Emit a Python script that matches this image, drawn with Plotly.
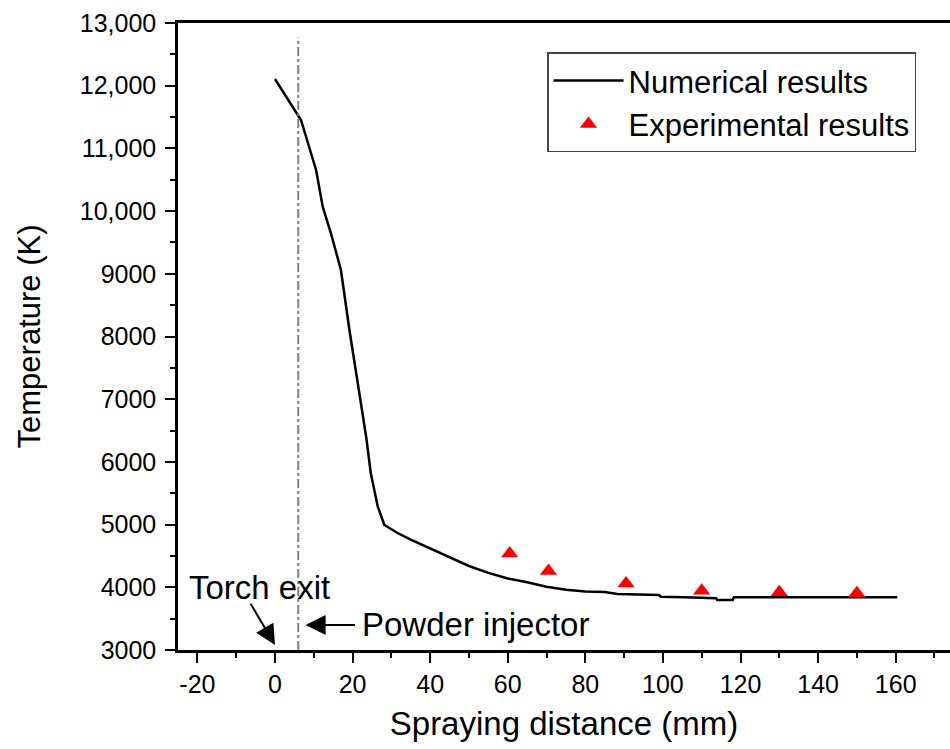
import plotly.graph_objects as go

# Numerical results (line)
num_x = [0, 6.7, 10.6, 12.3, 14.4, 16.6, 17.0, 19.2, 21.7, 23.5, 24.7, 26.5, 28.2,
         31.6, 35, 40, 45, 50, 55, 60, 65, 70, 75, 80, 85, 88.3, 99, 99.5, 105.5,
         113.7, 114, 118, 118.3, 160.4]
num_y = [12107, 11453, 10656, 10070, 9650, 9167, 9060, 8100, 7094, 6402, 5820, 5286, 4994,
         4866, 4760, 4620, 4470, 4340, 4230, 4140, 4080, 4010, 3960, 3935, 3925, 3893, 3877, 3850, 3840,
         3824, 3797, 3797, 3840, 3840]

# Experimental results (triangles)
exp_x = [60.5, 70.5, 90.5, 110, 130, 150]
exp_y = [4540, 4260, 4060, 3945, 3920, 3905]

y_tickvals = [3000, 4000, 5000, 6000, 7000, 8000, 9000, 10000, 11000, 12000, 13000]
y_ticktext = ["3000", "4000", "5000", "6000", "7000", "8000", "9000",
              "10,000", "11,000", "12,000", "13,000"]
x_tickvals = [-20, 0, 20, 40, 60, 80, 100, 120, 140, 160]
x_ticktext = ["-20", "0", "20", "40", "60", "80", "100", "120", "140", "160"]

injector_x = 6
FONT = "Arial, Liberation Sans, sans-serif"

fig = go.Figure()
fig.add_trace(go.Scatter(x=num_x, y=num_y, mode="lines", name="Numerical results",
                         line=dict(color="black", width=2.5)))
fig.add_trace(go.Scatter(x=exp_x, y=exp_y, mode="markers", name="Experimental results",
                         marker=dict(symbol="triangle-up", color="red", size=15,
                                     line=dict(width=0))))

fig.add_shape(type="line", x0=injector_x, x1=injector_x, y0=3000, y1=12770,
              xref="x", yref="y", line=dict(color="#808080", width=2, dash="dashdot"))

# Annotations
fig.add_annotation(x=0, y=3080, ax=-6.5, ay=3760, xref="x", yref="y", axref="x", ayref="y",
                   text="", showarrow=True, arrowhead=2, arrowsize=2, arrowwidth=2,
                   arrowcolor="black")
fig.add_annotation(x=-4, y=3990, xref="x", yref="y", text="Torch exit", showarrow=False,
                   font=dict(size=33, color="black", family=FONT))
fig.add_annotation(x=7.9, y=3400, ax=21, ay=3400, xref="x", yref="y", axref="x", ayref="y",
                   text="", showarrow=True, arrowhead=2, arrowsize=2, arrowwidth=2,
                   arrowcolor="black")
fig.add_annotation(x=22, y=3400, xref="x", yref="y", text="Powder injector", showarrow=False,
                   xanchor="left", font=dict(size=33, color="black", family=FONT))

fig.update_layout(
    width=950, height=749,
    margin=dict(l=178, r=0, t=23, b=99),
    paper_bgcolor="white", plot_bgcolor="white",
    font=dict(family=FONT, color="black"),
    showlegend=True,
    legend=dict(x=0.478, y=0.953, xanchor="left", yanchor="top",
                bgcolor="white", bordercolor="#444", borderwidth=1.5,
                font=dict(size=31, family=FONT, color="black"),
                itemwidth=70, tracegroupgap=0),
    xaxis=dict(
        range=[-25, 174], tickvals=x_tickvals, ticktext=x_ticktext, ticks="outside",
        ticklen=10, tickwidth=2,
        tickcolor="black", showline=True, linecolor="black", linewidth=2.5, mirror=True,
        showgrid=False, zeroline=False,
        tickfont=dict(size=25, family=FONT, color="black"),
        minor=dict(dtick=10, ticks="outside", ticklen=5, tickwidth=2, tickcolor="black",
                   showgrid=False),
        title=dict(text="Spraying distance (mm)", font=dict(size=33, family=FONT, color="black"),
                   standoff=16),
    ),
    yaxis=dict(
        range=[3000, 13000], tickvals=y_tickvals, ticktext=y_ticktext, ticks="outside",
        ticklen=10, tickwidth=2, tickcolor="black", showline=True, linecolor="black",
        linewidth=2.5, showgrid=False, zeroline=False, ticklabelstandoff=4,
        tickfont=dict(size=25, family=FONT, color="black"),
        minor=dict(dtick=500, ticks="outside", ticklen=5, tickwidth=2, tickcolor="black",
                   showgrid=False),
        title=dict(text="Temperature (K)", font=dict(size=31, family=FONT, color="black"),
                   standoff=30),
    ),
)

fig.write_html("out.html")
